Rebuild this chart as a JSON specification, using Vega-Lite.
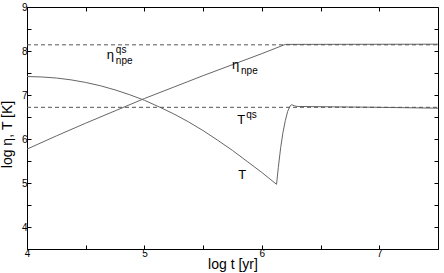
{
  "$schema": "https://vega.github.io/schema/vega-lite/v6.json",
  "autosize": "none",
  "width": 411,
  "height": 242,
  "padding": {"left": 27, "top": 7, "right": 6, "bottom": 24},
  "background": "white",
  "config": {
    "view": {"stroke": null},
    "font": "Liberation Sans",
    "axis": {"grid": false, "domainColor": "black", "tickColor": "black", "labelColor": "black", "titleColor": "black", "labelFont": "Liberation Sans", "titleFont": "Liberation Sans", "titleFontWeight": "normal", "labelFontSize": 10, "titleFontSize": 14, "domainWidth": 1, "tickWidth": 1}
  },
  "datasets": {
    "curves": [
      {"s": "eta", "t": 4.0, "v": 5.77},
      {"s": "eta", "t": 4.25, "v": 6.07},
      {"s": "eta", "t": 4.5, "v": 6.36},
      {"s": "eta", "t": 4.75, "v": 6.64},
      {"s": "eta", "t": 5.0, "v": 6.92},
      {"s": "eta", "t": 5.25, "v": 7.18},
      {"s": "eta", "t": 5.5, "v": 7.44},
      {"s": "eta", "t": 5.75, "v": 7.69},
      {"s": "eta", "t": 6.0, "v": 7.94},
      {"s": "eta", "t": 6.2, "v": 8.15},
      {"s": "eta", "t": 7.5, "v": 8.155},
      {"s": "T", "t": 4.0, "v": 7.42},
      {"s": "T", "t": 4.125, "v": 7.41},
      {"s": "T", "t": 4.25, "v": 7.386},
      {"s": "T", "t": 4.375, "v": 7.344},
      {"s": "T", "t": 4.5, "v": 7.285},
      {"s": "T", "t": 4.625, "v": 7.21},
      {"s": "T", "t": 4.75, "v": 7.116},
      {"s": "T", "t": 4.875, "v": 7.006},
      {"s": "T", "t": 5.0, "v": 6.88},
      {"s": "T", "t": 5.125, "v": 6.73},
      {"s": "T", "t": 5.25, "v": 6.57},
      {"s": "T", "t": 5.375, "v": 6.39},
      {"s": "T", "t": 5.5, "v": 6.19},
      {"s": "T", "t": 5.625, "v": 5.97},
      {"s": "T", "t": 5.75, "v": 5.74},
      {"s": "T", "t": 5.875, "v": 5.49},
      {"s": "T", "t": 6.0, "v": 5.24},
      {"s": "T", "t": 6.06, "v": 5.11},
      {"s": "T", "t": 6.125, "v": 4.97},
      {"s": "T", "t": 6.14, "v": 5.35},
      {"s": "T", "t": 6.16, "v": 5.8},
      {"s": "T", "t": 6.18, "v": 6.15},
      {"s": "T", "t": 6.2, "v": 6.42},
      {"s": "T", "t": 6.22, "v": 6.63},
      {"s": "T", "t": 6.24, "v": 6.75},
      {"s": "T", "t": 6.255, "v": 6.78},
      {"s": "T", "t": 6.275, "v": 6.755},
      {"s": "T", "t": 6.3, "v": 6.74},
      {"s": "T", "t": 7.0, "v": 6.72},
      {"s": "T", "t": 7.5, "v": 6.70}
    ],
    "dashed": [
      {"s": "eta_qs", "t": 4.0, "v": 8.14},
      {"s": "eta_qs", "t": 7.5, "v": 8.14},
      {"s": "T_qs", "t": 4.0, "v": 6.72},
      {"s": "T_qs", "t": 7.5, "v": 6.72}
    ],
    "labels": [
      {"t": 4.68, "v": 7.807, "main": "η", "sup": "qs", "sub": "npe"},
      {"t": 5.746, "v": 7.58, "main": "η", "sup": "", "sub": "npe"},
      {"t": 5.79, "v": 6.33, "main": "T", "sup": "qs", "sub": ""},
      {"t": 5.8, "v": 5.10, "main": "T", "sup": "", "sub": ""}
    ]
  },
  "resolve": {"axis": {"x": "independent", "y": "independent"}},
  "layer": [
    {
      "data": {"name": "curves"},
      "mark": {"type": "line", "color": "#666666", "strokeWidth": 1},
      "encoding": {
        "x": {"field": "t", "type": "quantitative", "scale": {"domain": [4, 7.5], "nice": false, "zero": false},
          "axis": {"orient": "bottom", "values": [4, 4.5, 5, 5.5, 6, 6.5, 7], "tickSize": -4, "labelExpr": "datum.value % 1 == 0 ? format(datum.value, 'd') : ''", "title": "log t [yr]", "titleY": 8, "titleBaseline": "top", "labelPadding": 3, "labelFlush": false}},
        "y": {"field": "v", "type": "quantitative", "scale": {"domain": [3.5, 9], "nice": false, "zero": false},
          "axis": {"orient": "left", "values": [3.5, 4, 4.5, 5, 5.5, 6, 6.5, 7, 7.5, 8, 8.5, 9], "tickSize": -4, "labelExpr": "datum.value % 1 == 0 ? format(datum.value, 'd') : ''", "title": "log η, T [K]", "titleX": -13, "titleY": 127, "titleBaseline": "bottom", "labelPadding": 4, "labelFlush": false}},
        "detail": {"field": "s"}
      }
    },
    {
      "data": {"name": "dashed"},
      "mark": {"type": "line", "color": "#555555", "strokeWidth": 1, "strokeDash": [4, 3]},
      "encoding": {
        "x": {"field": "t", "type": "quantitative",
          "axis": {"orient": "top", "values": [4, 4.5, 5, 5.5, 6, 6.5, 7], "tickSize": -4, "labels": false, "title": null}},
        "y": {"field": "v", "type": "quantitative",
          "axis": {"orient": "right", "values": [3.5, 4, 4.5, 5, 5.5, 6, 6.5, 7, 7.5, 8, 8.5, 9], "tickSize": -4, "labels": false, "title": null}},
        "detail": {"field": "s"}
      }
    },
    {
      "data": {"name": "labels"},
      "mark": {"type": "text", "align": "left", "baseline": "alphabetic", "fontSize": 13, "color": "black", "font": "Liberation Sans"},
      "encoding": {
        "x": {"field": "t", "type": "quantitative", "axis": null},
        "y": {"field": "v", "type": "quantitative", "axis": null},
        "text": {"field": "main"}
      }
    },
    {
      "data": {"name": "labels"},
      "mark": {"type": "text", "align": "left", "baseline": "alphabetic", "fontSize": 10, "dx": 9, "dy": -6, "color": "black", "font": "Liberation Sans"},
      "encoding": {
        "x": {"field": "t", "type": "quantitative", "axis": null},
        "y": {"field": "v", "type": "quantitative", "axis": null},
        "text": {"field": "sup"}
      }
    },
    {
      "data": {"name": "labels"},
      "mark": {"type": "text", "align": "left", "baseline": "alphabetic", "fontSize": 10, "dx": 9, "dy": 5, "color": "black", "font": "Liberation Sans"},
      "encoding": {
        "x": {"field": "t", "type": "quantitative", "axis": null},
        "y": {"field": "v", "type": "quantitative", "axis": null},
        "text": {"field": "sub"}
      }
    }
  ]
}
